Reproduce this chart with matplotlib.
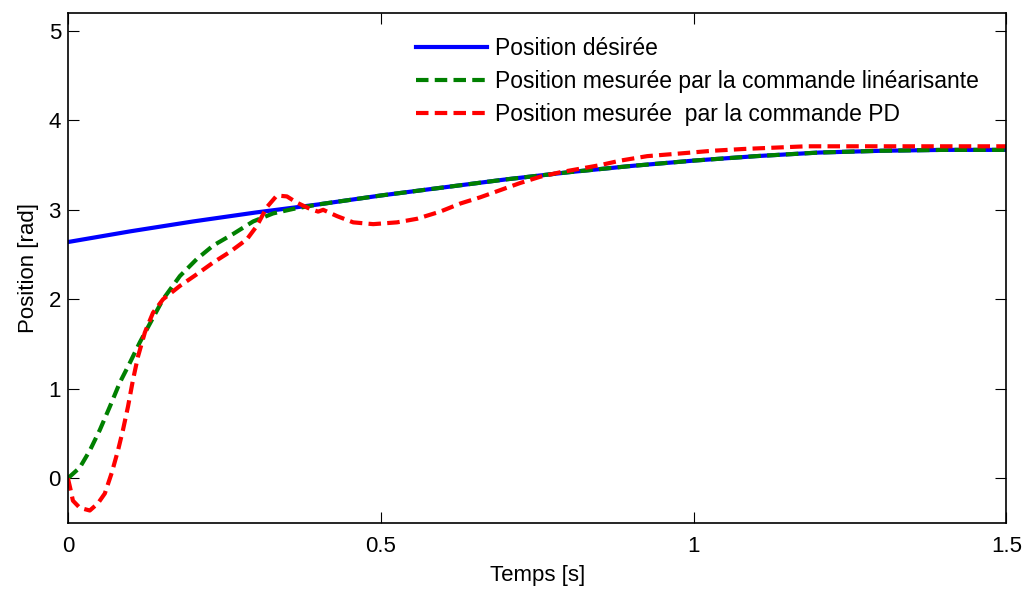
import numpy as np
import matplotlib.pyplot as plt

plt.rcParams['font.family'] = ['Liberation Sans', 'DejaVu Sans']

# Position désirée
t_des = [0, 0.1, 0.2, 0.3, 0.4, 0.5, 0.6, 0.7, 0.8, 0.9, 1.0, 1.1, 1.2, 1.3, 1.4, 1.5]
pos_des = [2.64, 2.76, 2.87, 2.97, 3.06, 3.16, 3.25, 3.34, 3.42, 3.49, 3.55, 3.60, 3.64, 3.66, 3.67, 3.67]

# Position mesurée (commande linéarisante)
t_lin = [0, 0.019, 0.035, 0.051, 0.067, 0.083, 0.099, 0.115, 0.135, 0.152, 0.179, 0.206,
         0.232, 0.264, 0.296, 0.328, 0.36, 0.4, 0.5, 0.6, 0.7, 0.8, 0.9, 1.0, 1.1, 1.2,
         1.3, 1.4, 1.5]
pos_lin = [0, 0.12, 0.31, 0.54, 0.8, 1.07, 1.29, 1.52, 1.78, 2.0, 2.26, 2.45,
           2.6, 2.73, 2.87, 2.96, 3.01, 3.06, 3.16, 3.25, 3.34, 3.42, 3.49, 3.55, 3.60, 3.64,
           3.66, 3.67, 3.67]

# Position mesurée (commande PD)
t_pd = [0, 0.004, 0.008, 0.019, 0.035, 0.048, 0.059, 0.07, 0.08, 0.088, 0.096, 0.104,
        0.112, 0.123, 0.136, 0.152, 0.179, 0.206, 0.232, 0.259, 0.286, 0.302, 0.318, 0.334,
        0.35, 0.366, 0.387, 0.4, 0.408, 0.43, 0.456, 0.488, 0.526, 0.558, 0.595, 0.627,
        0.659, 0.691, 0.723, 0.755, 0.787, 0.819, 0.851, 0.883, 0.926, 0.979, 1.03, 1.08,
        1.18, 1.3, 1.4, 1.5]
pos_pd = [0, -0.12, -0.25, -0.33, -0.36, -0.28, -0.17, 0.06, 0.31, 0.54, 0.8, 1.1,
          1.36, 1.63, 1.85, 2.0, 2.15, 2.28, 2.41, 2.53, 2.67, 2.82, 3.03, 3.16,
          3.15, 3.08, 3.01, 2.98, 3.0, 2.93, 2.86, 2.84, 2.86, 2.9, 2.98, 3.07,
          3.14, 3.22, 3.3, 3.37, 3.42, 3.46, 3.5, 3.55, 3.6, 3.63, 3.66, 3.68,
          3.71, 3.71, 3.71, 3.71]

fig = plt.figure(figsize=(10.29, 5.89), dpi=100)
ax = fig.add_axes([0.066, 0.112, 0.912, 0.866])

ax.plot(t_des, pos_des, color='blue', lw=3, label='Position désirée')
ax.plot(t_lin, pos_lin, color=(0, 0.5, 0), lw=3, dashes=(3, 1.5),
        label='Position mesurée par la commande linéarisante')
ax.plot(t_pd, pos_pd, color='red', lw=3, dashes=(3, 1.5),
        label='Position mesurée  par la commande PD')

ax.set_xlim(0, 1.5)
ax.set_ylim(-0.5, 5.2)
ax.set_xticks([0, 0.5, 1, 1.5])
ax.set_xticklabels(['0', '0.5', '1', '1.5'])
ax.set_yticks([0, 1, 2, 3, 4, 5])
ax.tick_params(direction='in', top=True, right=True, length=8, width=0.8, labelsize=16)
ax.tick_params(axis='x', pad=9)
ax.tick_params(axis='y', pad=5)
for s in ax.spines.values():
    s.set_linewidth(1.2)

ax.set_xlabel('Temps [s]', fontsize=16, labelpad=6)
ax.set_ylabel('Position [rad]', fontsize=16, labelpad=7)

ax.legend(loc='upper left', bbox_to_anchor=(0.371, 0.953), frameon=False, fontsize=16.5,
          handlelength=3.1, handletextpad=0.35, labelspacing=0.44, borderpad=0, borderaxespad=0)

fig.savefig('out.png', dpi=100)
